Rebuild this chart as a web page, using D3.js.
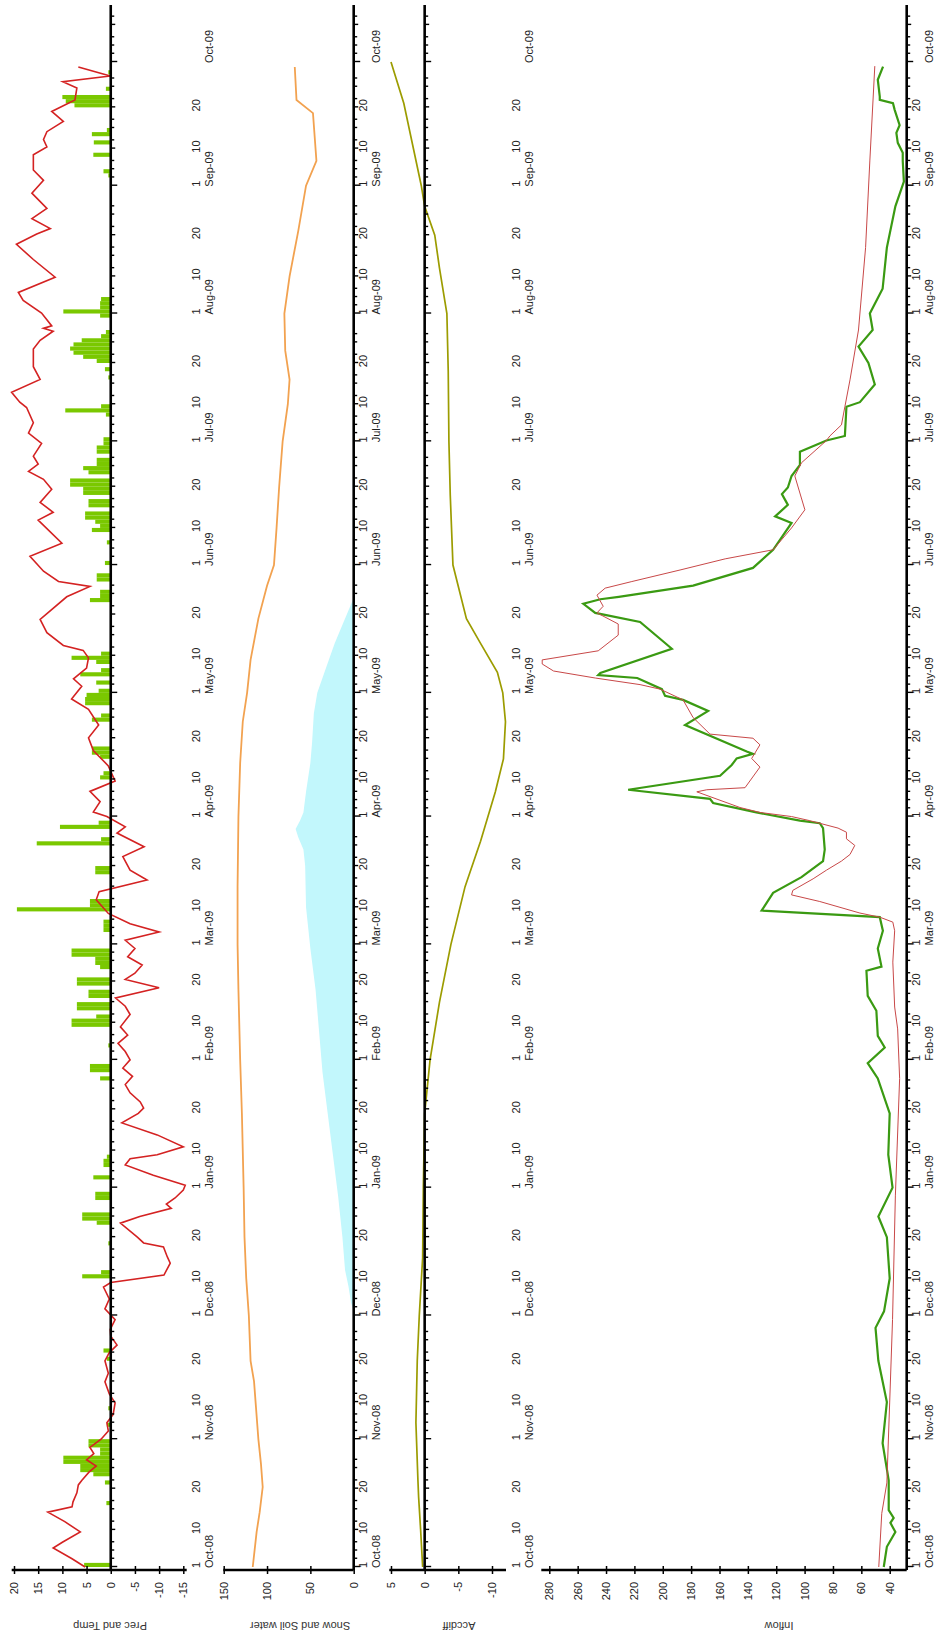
<!DOCTYPE html>
<html><head><meta charset="utf-8">
<script src="https://cdn.jsdelivr.net/npm/d3@7"></script>
<style>body{margin:0;background:#fff} svg{display:block} text{font-family:"Liberation Sans",Arial,sans-serif}</style>
</head><body><svg id="c" width="936" height="1641"></svg>
<script>
// ---------- DATA (day = days after 1 Oct 2008) ----------
const monthLabels = ["Oct-08","Nov-08","Dec-08","Jan-09","Feb-09","Mar-09","Apr-09","May-09","Jun-09","Jul-09","Aug-09","Sep-09","Oct-09"];
const dayLabels = ["1","10","20"];
const precTicks = [20,15,10,5,0,-5,-10,-15];
const snowTicks = [150,100,50,0];
const accTicks = [5,0,-5,-10];
const inflowTicks = [280,260,240,220,200,180,160,140,120,100,80,60,40];
const axisTitles = ["Prec and Temp","Snow and Soil water","Accdiff","Inflow"];

const precip = [[0,5.5],[15,0.9],[20,1.2],[22,3.6],[23,6.3],[24,6.3],[25,9.8],[26,9.8],[27,2.2],[28,2.2],[29,4.6],[30,4.6],[34,0.8],[38,0.5],[50,0.8],[52,1.5],
 [70,5.9],[71,2],[78,0.5],[83,2.9],[84,5.9],[85,5.9],[89,3.2],[90,3.2],[94,3.6],[97,1.5],[98,1.5],[99,0.8],
 [118,2.2],[120,4.3],[121,4.3],[126,0.5],[131,8.1],[132,8.1],[133,3],[135,7],[136,7],[138,4.6],[139,4.6],[141,7],[142,7],
 [145,2.2],[146,3.2],[147,3.2],[148,8.1],[149,8.1],[154,1.5],[155,1.5],[156,1.5],[159,19.4],[160,4.3],[161,4.3],[168,3.2],[169,3.2],
 [175,15.3],[176,2],[179,10.5],[180,2.5],
 [191,2.2],[192,1.5],[196,2.2],[197,3.9],[198,3.9],[205,3.9],[206,2],[209,5.3],[210,5.3],[211,5],[212,2.5],[214,3],[216,6.3],[217,2],[219,3],[220,8.1],[221,2],
 [234,4.3],[235,2.2],[236,2.2],[239,2.9],[240,2.9],[243,1.2],[248,0.8],[251,3.9],[252,2.2],[253,3.2],[254,5.3],[255,5.3],[257,4.6],[258,4.6],[260,5.7],[261,5.7],[262,8.4],[263,8.4],[265,4.6],[266,5.7],[267,2.9],[268,2.9],[270,2.9],[271,2.9],[272,1.5],[273,1.5],
 [279,1],[280,9.4],[281,2],
 [288,0.5],[290,1.2],[292,2.9],[293,5.7],[294,7.7],[295,8.4],[296,7.7],[297,6],[298,2],[299,1],[303,2.2],[304,9.8],[305,2.2],[306,2.2],[307,2],
 [337,0.5],[338,1.5],[342,3.6],[345,3.5],[347,3.9],[348,0.8],[354,7.5],[355,9.3],[356,10],[358,1],[362,0.5]];

const temp = [[0,5.3],[2,8],[4.6,11.9],[6,10],[8.5,6.3],[11,9.5],[13.3,13],[14.6,8],[15.8,7.8],[18,7],[19.9,6.7],[21,6],[23,4.5],[24.5,3],[26,5],[27.5,3.5],[29,4.3],[31,2],[33,0.5],[35,0.8],[37,-0.5],[39.8,-0.9],[42,0.3],[44.9,1.2],[47,0.5],[50,1.2],[52,0.3],[53.8,-1.3],[56,0],[57.6,0.1],[60,-0.9],[62.6,1.2],[65,0.3],[67.9,1.5],[69,0],
 [70.8,-11],[73.7,-12.3],[75.2,-11.7],[77.6,-10.9],[78.6,-6.8],[80,-5.5],[83.4,-2],[85,-6],[87,-12.5],[88,-11.5],[89.5,-13.3],[91.4,-15],[92.6,-15.4],
 [95,-8.8],[97.5,-3],[99,-4],[100,-9.6],[101.9,-15],[104.8,-9.6],[107.7,-2.3],[110,-5.7],[111.3,-6.8],[112.8,-6.1],
 [115,-4],[117,-3],[119,-4.5],[121,-2.5],[123,-4],[125,-3],[127,-1.5],[129,-3.5],[131,-2],[134,-4],[136,-3],[138,-1],[140.5,-10],[142.5,-3],[144,-5],[146,-6.5],[148,-3.5],[150,-5],[152,-3],[154,-10],[156,-4],[158.5,0.5],
 [161.8,3],[163.8,2.4],[166.6,-7.5],[169,-4],[172.3,-2.5],[174.7,-6.9],[178,-1.3],[179.5,-3],[182,0.8],[183.1,3.6],[185.6,2.2],[188.1,4.3],[190.6,-0.9],[194.3,0.5],[198,3.6],[201.1,4.6],[204.2,2.5],[208,4.6],
 [210.5,8.1],[213.6,6],[215.4,7.7],[218,5],[220.5,4.6],[222.3,5.7],[223.5,9.8],[226.6,13.2],[229.8,14.6],[235.3,9.1],[237.8,4.3],[239,10.8],[241.5,13.9],[245.1,16.7],[248.3,10.1],
 [253.9,15],[255.8,11.9],[258.2,14.6],[261.4,12.2],[263.8,13.9],[265.7,17],[267.5,15],[269.4,16],[272.5,14.3],[275,17],[277.5,16],[281.2,17.4],[282.5,18.8],[284.9,20.5],
 [288,14.6],[291.1,16],[295.4,16],[297.5,14.6],[299.7,11.9],[300.4,13.9],[301,12.2],[304.1,14.3],[307.2,18.1],[309.1,19.1],[312.8,11.5],[317.1,16],[320.8,19.5],[323.3,15.3],[324.6,12.5],
 [327,16.3],[329.5,13.2],[333.2,16.3],[336.3,13.9],[338.8,16],[342.5,16],[344.4,13.2],[346.2,13.9],[348.1,13.2],[350.6,9.8],[353,12.2],[355.8,7.4],[358.7,7],[360.2,9.9],[361.6,0.1],[363.8,6.7]];

const snow = [[62,0],[64,3],[68,6],[72,10],[80,13],[90,18],[100,24],[110,30],[120,36],[130,40],[140,44],[150,50],[160,55],[170,56],[174,58],[177,64],[179,67],[181,62],[183,58],[188,55],[195,50],[200,48],[207,46],[212,42],[218,32],[224,22],[229,12],[233,4],[235,0]];

const soil = [[0,116.5],[8.5,112],[13.3,108.5],[19.4,105],[25,107],[31,110],[45,115],[50,119],[61,121],[70,124],[80,126],[92,127],[110,129],[123,131],[140,133],[151,134],[165,134],[182,133],[195,131],[205,128],[212,123],[220,119],[230,110],[238,100],[243,92],[252,89],[262,86],[273,82],[282,76],[288,74],[295,79],[304,80],[313,74],[324,64],[335,55],[341,43],[352.6,47],[355.8,66],[363.8,68]];

const accdiff = [[0,0.3],[9,0.6],[17,0.9],[21,1],[35,1.3],[50,1.1],[61,0.8],[75,0.3],[92,0.2],[110,0],[123,-0.8],[137,-2.2],[151,-3.9],[165,-6],[176,-8.3],[188,-10.5],[196,-11.7],[205,-12],[212,-11.6],[217,-10.8],[224,-8.3],[230,-6.2],[243,-4.2],[260,-3.8],[273,-3.6],[290,-3.5],[304,-3.3],[315,-2.2],[323,-1.5],[330,0],[335,0.5],[345,1.8],[355,3.1],[365,5]];

const inflowObs = [[0,44.2],[4.9,42],[8.5,36],[10.7,39.5],[11.9,37.2],[13.8,40.7],[17,40.7],[21,40.7],[30,45],[40,42],[50,48],[58,50],[62,44],[70,40],[80,42],[85,48],[92,38],[100,41],[110,40],
 [118.5,48.4],[122.2,55.5],[126,43.5],[128.8,48.4],[134.9,49.4],[138.5,55.5],[144.6,56.4],[145.6,45.8],[150,48.4],[154.3,44.8],[157.6,47],[159.2,130.3],[163.5,122.2],[167.3,102.2],[171.2,87],[174,85.8],[179.2,87],[180.4,89.3],[181,103.3],[183,134],[185.3,164.5],[186.3,166.7],[188.5,224.4],[191.9,159.6],[194.5,151.4],[196.1,147.9],[197.2,136.4],[197.8,140.8],[204.2,184.3],[207.6,168],[210.3,185.7],[211.3,198.4],[212.9,200.6],[215.6,218],[216.3,245.5],[216.8,244],[222.7,193.6],[229.2,216],[231.4,247.6],[233.6,256],[234.7,244],[235.3,231],[238,178.6],[242.3,136.4],[246.7,122.2],[249.3,117],[253.2,109.2],[254.8,120.8],[257.6,111.8],[260.2,116],[261.8,111.8],[264.6,109.2],[267.3,103.3],[270.5,103.3],[273.2,84.6],[274.3,71.6],[281.4,70.5],[282.5,61],[286.8,50.5],[292,55],[296,62],[300,52],[304,54],[310,45],[320,42],[330,36],[336,30],[341,30.8],[343,30.8],[345.4,34.3],[347.8,35.3],[349.7,33],[353.4,36.5],[355,37.7],[355.8,47],[356.6,47],[360.7,48.4],[363.9,44.7]];

const inflowSim = [[0,47.7],[13,45.6],[20.4,42],[40,40],[60,38],[90,36],[118.5,33],[130.5,34.4],[135.8,36.5],[146.7,37.8],[154.3,36.5],[156.4,37.8],[157.6,47],[158.6,61],[161.4,89.3],[163,109.2],[164.1,108.3],[166.9,94],[169,84.6],[171.2,74],[172.8,68],[175,64.6],[176.6,70.5],[178.2,70.5],[179.2,76.4],[181,96.3],[182,109.2],[183,131.5],[184.2,145.6],[188,176],[188.5,169],[189,142],[194,131.5],[196.1,137.3],[199.4,131.5],[201,136.4],[202,166.7],[206,178.6],[210.3,185.7],[212.9,201.9],[214,216],[215.6,247.6],[217.3,277],[219,285],[220,285],[222.2,245.5],[226,231.4],[228.7,231.4],[231.4,246.4],[233,242],[235.7,246.4],[237.4,240.6],[239,221.8],[241.8,187.8],[244.5,156],[246.7,122.2],[252,109.2],[256.4,99.8],[264.6,106.9],[267.8,102.2],[273.2,84.6],[274.3,82.2],[277,74],[281.4,71.6],[287.9,68],[300,62],[320,57],[341,54],[364,50.5]];

// ---------- LAYOUT (unrotated frame: time runs along X, then the whole chart is turned 90deg) ----------
const FW = 1641;
const DAY0 = Date.UTC(2008, 9, 1);
const toDate = d => new Date(DAY0 + d * 864e5);
const x = d3.scaleUtc().domain([toDate(0), toDate(365)]).range([74, 1579]);
const AX0 = 71, AX1 = 1636;

const panels = [
  {title: axisTitles[0], y: d3.scaleLinear().domain([20,-15]).range([14,183.3]), top: 11.7, bottom: 186.7, ticks: precTicks, base: 0, titleY: 110},
  {title: axisTitles[1], y: d3.scaleLinear().domain([150,0]).range([223.7,353.7]), top: 223.3, bottom: 353.7, ticks: snowTicks, base: 0, titleY: 300},
  {title: axisTitles[2], y: d3.scaleLinear().domain([5,-10]).range([391,492]), top: 389.3, bottom: 506, ticks: accTicks, base: 0, titleY: 459},
  {title: axisTitles[3], y: d3.scaleLinear().domain([280,40]).range([549.3,889.7]), top: 541.3, bottom: 906.7, ticks: inflowTicks, base: null, titleY: 779}
];

const svg = d3.select("#c");
const g = svg.append("g").attr("transform", `translate(0,${FW}) rotate(-90)`);

const [P1, P2, P3, P4] = panels;

// ---- marks ----
g.append("g").selectAll("rect").data(precip).join("rect")
  .attr("x", d => x(toDate(d[0])))
  .attr("width", d => x(toDate(d[0] + 1)) - x(toDate(d[0])))
  .attr("y", d => P1.y(d[1]))
  .attr("height", d => P1.y(0) - P1.y(d[1]))
  .attr("fill", "#7ac800");

const line = sc => d3.line().x(d => x(toDate(d[0]))).y(d => sc(d[1]));

g.append("path").datum(temp).attr("d", line(P1.y)).attr("fill", "none").attr("stroke", "#d42222").attr("stroke-width", 1.6);

g.append("path").datum(snow)
  .attr("d", d3.area().x(d => x(toDate(d[0]))).y0(P2.y(0)).y1(d => P2.y(d[1])))
  .attr("fill", "#c2f7fc");
g.append("path").datum(soil).attr("d", line(P2.y)).attr("fill", "none").attr("stroke", "#f2a250").attr("stroke-width", 1.8);

g.append("path").datum(accdiff).attr("d", line(P3.y)).attr("fill", "none").attr("stroke", "#9c9c00").attr("stroke-width", 1.7);

g.append("path").datum(inflowObs).attr("d", line(P4.y)).attr("fill", "none").attr("stroke", "#3a9a12").attr("stroke-width", 2.2);
g.append("path").datum(inflowSim).attr("d", line(P4.y)).attr("fill", "none").attr("stroke", "#c84848").attr("stroke-width", 1);

// ---- axes ----
const majors = d3.utcMonth.range(toDate(0), toDate(380));
const allDays = d3.utcDay.range(toDate(0), toDate(379));
const mids = allDays.filter(d => d.getUTCDate() === 10 || d.getUTCDate() === 20);
const minors = allDays.filter(d => [3,5,7,12,15,17,22,25,27].includes(d.getUTCDate()) && x(d) <= AX1);

panels.forEach((p, i) => {
  const va = g.append("g").attr("transform", `translate(${AX0},0)`)
    .call(d3.axisLeft(p.y).tickValues(p.ticks).tickSize(4).tickPadding(8).tickFormat(d => String(d)));
  va.select(".domain").remove();
  va.selectAll(".tick line").attr("x1", -4).attr("x2", 4).attr("stroke", "#000").attr("stroke-width", 1.5);
  va.selectAll(".tick text").attr("font-size", 11).attr("fill", "#222");
  va.append("line").attr("x1", 0).attr("x2", 0).attr("y1", p.top).attr("y2", p.bottom).attr("stroke", "#000").attr("stroke-width", 2.6);

  const ty = p.base === null ? p.bottom : p.y(p.base);
  const ta = g.append("g").attr("transform", `translate(0,${ty})`);
  [[majors, 6.5], [mids, 4.5], [minors, 3.5]].forEach(([vals, len]) => {
    const a = ta.append("g").call(d3.axisBottom(x).tickValues(vals).tickSize(len).tickFormat(""));
    a.select(".domain").remove();
    a.selectAll(".tick line").attr("stroke", "#000").attr("stroke-width", 1.4);
  });
  ta.append("line").attr("x1", AX0).attr("x2", AX1).attr("stroke", "#000").attr("stroke-width", 2.6);

  const l1 = p.bottom + 13.5, l2 = p.bottom + 26.5;
  const lab = g.append("g").attr("font-size", 11).attr("fill", "#222");
  majors.slice(0, 12).forEach(m => {
    [1, 10, 20].forEach((day, k) => {
      const dt = new Date(Date.UTC(m.getUTCFullYear(), m.getUTCMonth(), day));
      lab.append("text").attr("x", x(dt) + 2).attr("y", l1).attr("text-anchor", "middle").text(dayLabels[k]);
    });
  });
  majors.slice(0, 13).forEach((m, k) => {
    lab.append("text").attr("x", x(m) - 1).attr("y", l2).attr("text-anchor", "start").text(monthLabels[k]);
  });

  g.append("text").attr("transform", `translate(19,${p.titleY}) rotate(-90)`)
    .attr("text-anchor", "middle").attr("font-size", 11).attr("fill", "#333").text(p.title);
});
</script></body></html>
